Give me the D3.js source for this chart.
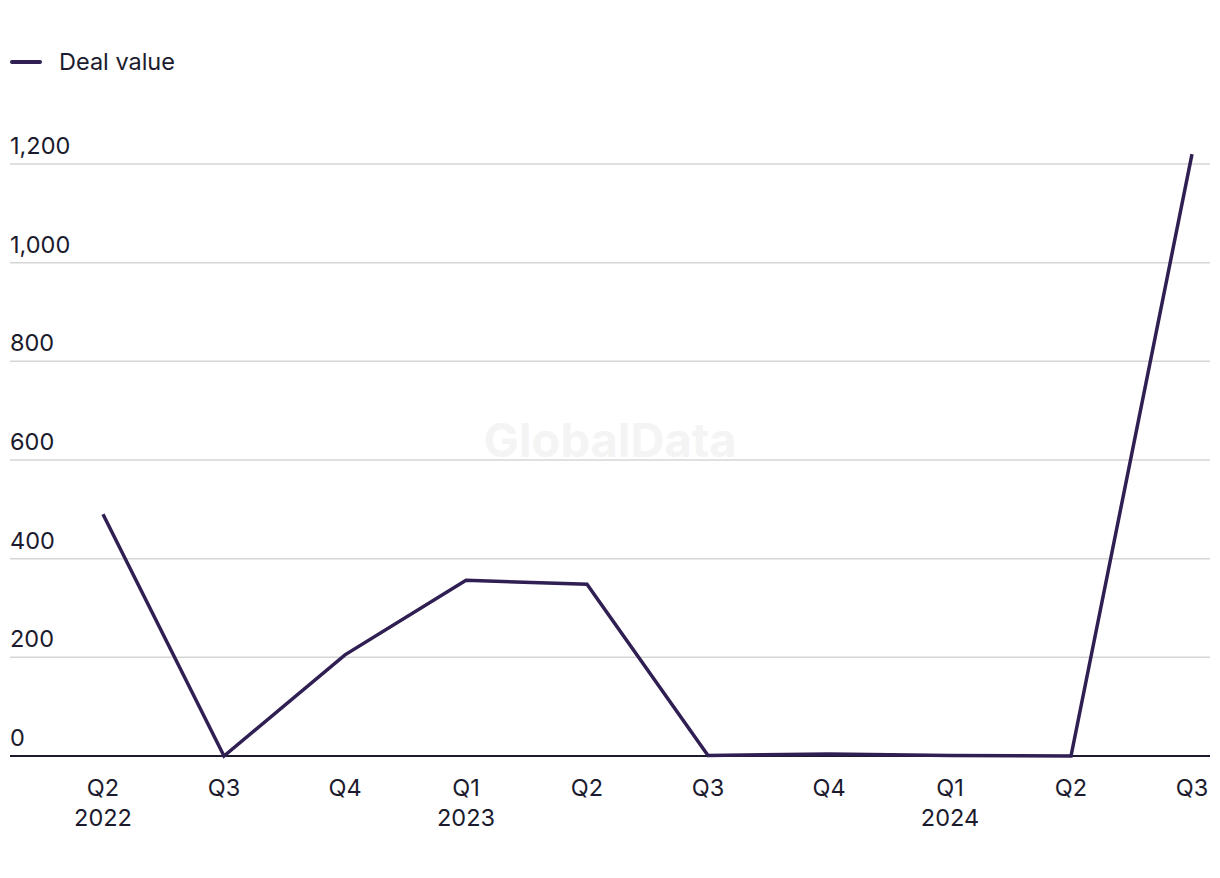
<!DOCTYPE html>
<html>
<head>
<meta charset="utf-8">
<script src="https://cdn.jsdelivr.net/npm/d3@7"></script>
<style>
  body { margin: 0; background: #fff; }
  text { font-family: Inter, "Noto Sans", sans-serif; fill: #1c1b2e; }
</style>
</head>
<body>
<svg id="chart" width="1220" height="878"></svg>
<script>
const quarters = ['Q2', 'Q3', 'Q4', 'Q1', 'Q2', 'Q3', 'Q4', 'Q1', 'Q2', 'Q3'];
const years = ['2022', '', '', '2023', '', '', '', '2024', '', ''];
const dealValue = [490, 0, 205, 356, 348, 1, 4, 1, 0, 1220];
const yTicks = [0, 200, 400, 600, 800, 1000, 1200];

const svg = d3.select('#chart');
const lineColor = '#2f1f52';
const keys = d3.range(quarters.length);

const x = d3.scalePoint().domain(keys).range([103, 1192]);
const y = d3.scaleLinear().domain([0, 1200]).range([756, 164]);

// watermark
svg.append('text')
    .attr('x', 610).attr('y', 457)
    .attr('text-anchor', 'middle')
    .style('font-size', '47px')
    .style('font-weight', 'bold')
    .style('fill', '#f4f4f4')
    .text('GlobalData');

// grid + y labels
const grid = svg.append('g');
grid.selectAll('line')
    .data(yTicks.filter(d => d > 0))
    .enter()
    .append('line')
    .attr('x1', 10).attr('x2', 1210)
    .attr('y1', y).attr('y2', y)
    .attr('stroke', '#d6d6d6')
    .attr('stroke-width', 1.5);

grid.selectAll('text')
    .data(yTicks)
    .enter()
    .append('text')
    .attr('x', 10)
    .attr('y', d => y(d) - 10)
    .style('font-size', '23.5px')
    .text(d3.format(','));

// baseline
svg.append('line')
    .attr('x1', 10).attr('x2', 1210)
    .attr('y1', y(0)).attr('y2', y(0))
    .attr('stroke', '#1c1b2e')
    .attr('stroke-width', 2);

// x labels
const xl = svg.append('g')
    .selectAll('text')
    .data(keys)
    .enter()
    .append('text')
    .attr('text-anchor', 'middle')
    .style('font-size', '23.5px');
xl.append('tspan').attr('x', x).attr('y', 796).text(i => quarters[i]);
xl.append('tspan').attr('x', x).attr('y', 826).text(i => years[i]);

// line
svg.append('path')
    .datum(dealValue)
    .attr('fill', 'none')
    .attr('stroke', lineColor)
    .attr('stroke-width', 3.5)
    .attr('stroke-linejoin', 'miter')
    .attr('d', d3.line().x((d, i) => x(i)).y(d => y(d)));

// legend
const legend = svg.append('g');
legend.append('line')
    .attr('x1', 12).attr('x2', 40)
    .attr('y1', 62).attr('y2', 62)
    .attr('stroke', lineColor)
    .attr('stroke-width', 4)
    .attr('stroke-linecap', 'round');
legend.append('text')
    .attr('x', 59).attr('y', 70)
    .style('font-size', '23.5px')
    .text('Deal value');
</script>
</body>
</html>
